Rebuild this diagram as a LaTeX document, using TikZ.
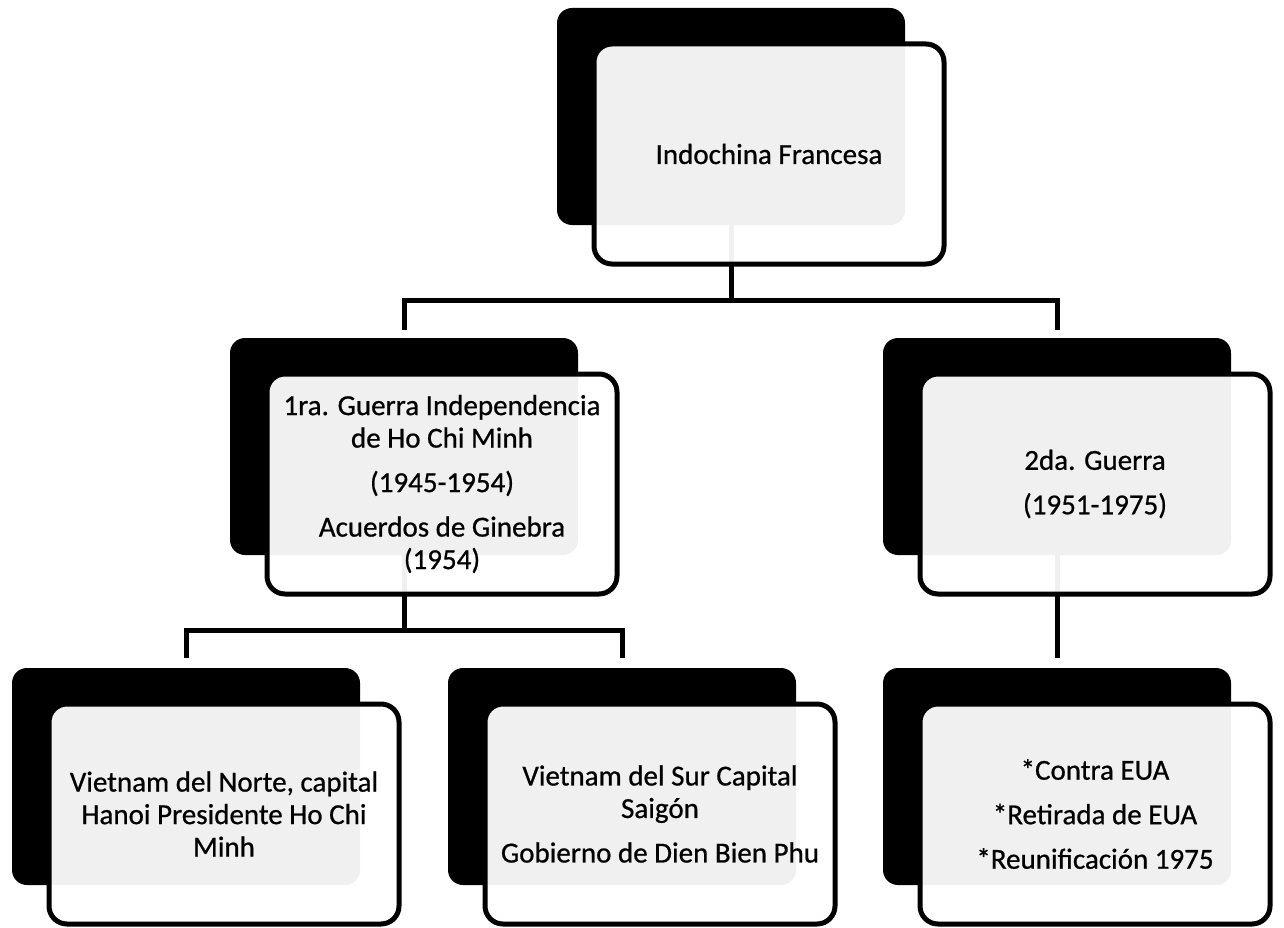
\documentclass[tikz,border=0pt]{standalone}
\usepackage{fontspec}
\setmainfont{Carlito}[BoldFont=Carlito, BoldFeatures={FakeBold=0.7}]
\tikzset{
 backbox/.style={fill=black, rounded corners=15pt, minimum width=348pt, minimum height=217pt, inner sep=0pt, outer sep=0pt},
 frontbox/.style={draw=black, line width=5pt, fill=white, fill opacity=0.94, rounded corners=18pt, minimum width=350pt, minimum height=220pt, inner sep=0pt, outer sep=0pt},
 txt/.style={align=center, font=\fontsize{29}{32.5}\selectfont\bfseries, text=black, inner sep=0pt},
 conn/.style={line width=5pt, draw=black},
}
\begin{document}
\begin{tikzpicture}[x=1pt,y=-1pt]
\useasboundingbox (0,0) rectangle (1284,928);
\fill[white] (0,0) rectangle (1284,928);
% back boxes
\node[backbox] (b0) at (731,116.5) {};
\node[backbox] (b1) at (404,446.5) {};
\node[backbox] (b2) at (1057,446.5) {};
\node[backbox] (b3) at (186,776.5) {};
\node[backbox] (b4) at (622,776.5) {};
\node[backbox] (b5) at (1057,776.5) {};
% junctions
\coordinate (j0) at (731,300);
\coordinate (j1) at (404,630);
% connectors
\draw[conn] (b0.south) -- (j0);
\draw[conn, shorten >=8pt] (j0) -| (b1.north);
\draw[conn, shorten >=8pt] (j0) -| (b2.north);
\draw[conn] (b1.south) -- (j1);
\draw[conn, shorten >=10pt] (j1) -| (b3.north);
\draw[conn, shorten >=10pt] (j1) -| (b4.north);
\draw[conn, shorten >=10pt] (b2.south) -- (b5.north);
% front boxes
\node[frontbox] (f0) at (769,154) {};
\node[frontbox] (f1) at (442,484) {};
\node[frontbox] (f2) at (1095,484) {};
\node[frontbox] (f3) at (224,814) {};
\node[frontbox] (f4) at (660,814) {};
\node[frontbox] (f5) at (1095,814) {};
% texts
\node[txt] (t0) at (f0) {Indochina Francesa};
\node[txt] (t1) at (f1) {1ra. Guerra Independencia\\de Ho Chi Minh\\[12pt](1945-1954)\\[12pt]Acuerdos de Ginebra\\(1954)};
\node[txt] (t2) at (f2) {2da. Guerra\\[12pt](1951-1975)};
\node[txt] (t3) at (f3) {Vietnam del Norte, capital\\Hanoi Presidente Ho Chi\\Minh};
\node[txt] (t4) at (f4) {Vietnam del Sur Capital\\Saigón\\[12pt]Gobierno de Dien Bien Phu};
\node[txt] (t5) at (f5) {*Contra EUA\\[12pt]*Retirada de EUA\\[12pt]*Reunificación 1975};
\end{tikzpicture}
\end{document}
